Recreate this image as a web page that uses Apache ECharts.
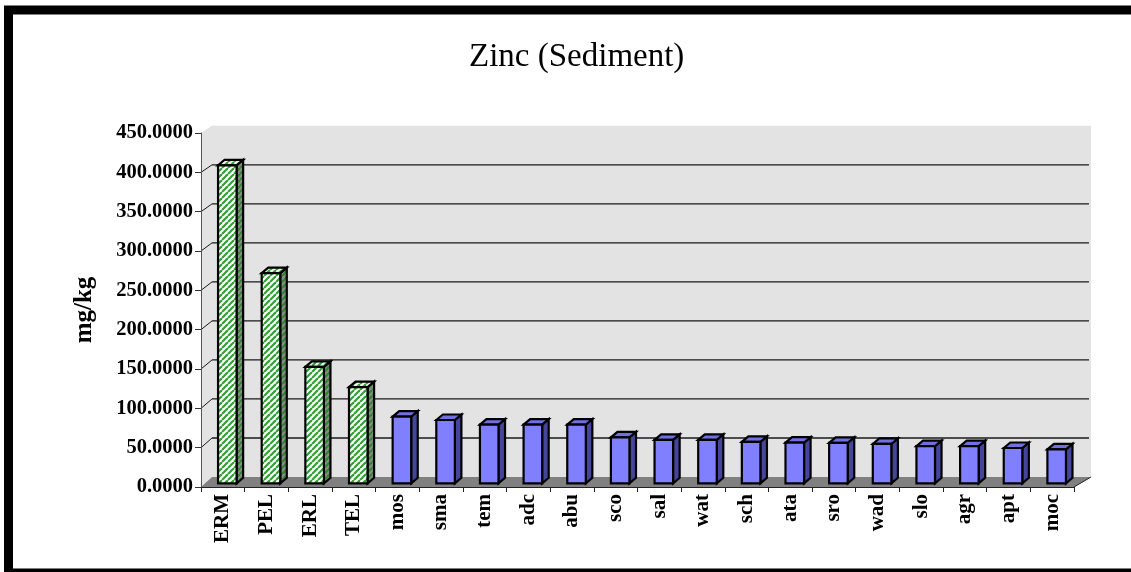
<!DOCTYPE html>
<html><head><meta charset="utf-8">
<script src="https://cdn.jsdelivr.net/npm/echarts@6/dist/echarts.min.js"></script>
<style>html,body{margin:0;padding:0;background:#fff}#c{width:1131px;height:572px}</style>
</head><body><div id="c"></div>
<script>
// ---- data ----
const categories = ['ERM','PEL','ERL','TEL','mos','sma','tem','adc','abu','sco','sal','wat','sch','ata','sro','wad','slo','agr','apt','moc'];
const guidelineNames = ['ERM','PEL','ERL','TEL'];
const guidelineValues = [410, 271, 150, 124];
const siteNames = ['mos','sma','tem','adc','abu','sco','sal','wat','sch','ata','sro','wad','slo','agr','apt','moc'];
const siteValues = [86, 81.6, 75.6, 75.6, 75.6, 59.3, 55.9, 55.9, 53.3, 52.4, 52, 50.7, 48, 48, 45.5, 43.8];
const yMin = 0, yMax = 450, yStep = 50;
const titleText = 'Zinc (Sediment)';
const yAxisTitle = 'mg/kg';

// ---- patterns ----
function makePattern(bg, fg, size, lw){
  const c = document.createElement('canvas'); c.width = c.height = size;
  const g = c.getContext('2d'); g.fillStyle = bg; g.fillRect(0,0,size,size);
  g.strokeStyle = fg; g.lineWidth = lw;
  for (let k=-1;k<=1;k++){ g.beginPath(); g.moveTo(k*size, size); g.lineTo(k*size+size, 0); g.stroke(); }
  return {image: c, repeat: 'repeat'};
}
const hatchFront = makePattern('#ffffff', '#33a033', 6, 2.2);
const hatchSide = makePattern('#8a8a8a', '#2e862e', 6, 2.2);
const hatchTop = makePattern('#f4f4f4', '#33a033', 6, 2.2);

const FONT = '"Liberation Serif", "Times New Roman", serif';

function backPt(cs, x, y){
  const by0 = cs.y + cs.height;
  return [x + 11 + (x - cs.x)*0.0069, by0 - 10 + (y - by0)*0.992];
}

function renderBackground(params, api){
  const cs = params.coordSys;
  const gx = cs.x, gy = cs.y, gw = cs.width, gh = cs.height;
  const ch = [];
  const tl = backPt(cs, gx, gy), tr = backPt(cs, gx+gw, gy);
  const bl = backPt(cs, gx, gy+gh), br = backPt(cs, gx+gw, gy+gh);
  ch.push({type:'polygon', shape:{points:[tl,tr,br,bl]}, style:{fill:'#e3e3e3'}});
  ch.push({type:'polygon', shape:{points:[[gx,gy],tl,bl,[gx,gy+gh]]}, style:{fill:'#e3e3e3'}});
  ch.push({type:'polygon', shape:{points:[[gx,gy+gh],[gx+gw,gy+gh],br,bl]}, style:{fill:'#808080'}});
  ch.push({type:'line', shape:{x1:gx+gw,y1:gy+gh,x2:br[0],y2:br[1]}, style:{stroke:'#222',lineWidth:1}});
  for (let v = yMin + yStep; v < yMax; v += yStep){
    const p = api.coord([0, v]);
    const y = p[1];
    const a = backPt(cs, gx, y), b = backPt(cs, gx+gw, y);
    ch.push({type:'line', shape:{x1:a[0],y1:a[1],x2:b[0]-2,y2:b[1]}, style:{stroke:'#1a1a1a',lineWidth:1.3}});
    ch.push({type:'line', shape:{x1:gx,y1:y,x2:a[0],y2:a[1]}, style:{stroke:'#1a1a1a',lineWidth:1}});
  }
  return {type:'group', children: ch};
}

function makeBarRender(front, side, top){
  return function(params, api){
    const i = api.value(0), v = api.value(1);
    const base = api.coord([i, 0]), tp = api.coord([i, v]);
    const bw = api.size([1, 0])[0];
    const fw = bw*0.425, off = bw*0.103, dx = bw*0.15, dy = 5.5;
    const x0 = base[0] + off - fw/2, x1 = x0 + fw;
    const y0 = base[1] - 3.7;
    const yt = y0 - (base[1] - tp[1])*0.986;
    const st = {stroke:'#000', lineWidth:2.2, lineJoin:'miter'};
    return {type:'group', children:[
      {type:'polygon', shape:{points:[[x1,yt],[x1+dx,yt-dy],[x1+dx,y0-dy],[x1,y0]]}, style:Object.assign({fill:side}, st)},
      {type:'polygon', shape:{points:[[x0,yt],[x0+dx,yt-dy],[x1+dx,yt-dy],[x1,yt]]}, style:Object.assign({fill:top}, st)},
      {type:'rect', shape:{x:x0,y:yt,width:fw,height:y0-yt}, style:Object.assign({fill:front}, st)}
    ]};
  };
}

const chart = echarts.init(document.getElementById('c'), null, {renderer:'canvas'});
chart.setOption({
  animation: false,
  backgroundColor: '#ffffff',
  title: {text: titleText, left: 464, top: 36,
    textStyle: {fontFamily: FONT, fontSize: 33, fontWeight: 'normal', color: '#000'}},
  graphic: [{type:'rect', shape:{x:8.5, y:10, width:1200, height:563}, style:{fill:'none', stroke:'#000', lineWidth:9}, z:100}],
  grid: {left: 201, top: 133, width: 873, height: 354, containLabel: false},
  xAxis: {type:'category', data: categories, boundaryGap: true, z: 10,
    axisLine: {show:true, lineStyle:{color:'#222', width:1}},
    axisTick: {show:true, interval:0, length:5, inside:false, lineStyle:{color:'#222'}},
    axisLabel: {interval:0, rotate:90, margin:7, fontFamily: FONT, fontWeight:'bold', fontSize:21, color:'#000'},
    splitLine: {show:false}},
  yAxis: {type:'value', min:yMin, max:yMax, interval:yStep, z: 10,
    name: yAxisTitle, nameLocation:'middle', nameRotate:90, nameGap:104,
    nameTextStyle: {fontFamily: FONT, fontWeight:'bold', fontSize:25, color:'#000'},
    axisLine: {show:true, lineStyle:{color:'#555', width:1}},
    axisTick: {show:true, length:6, inside:false, lineStyle:{color:'#333'}},
    axisLabel: {margin:8, formatter: v => v.toFixed(4), fontFamily: FONT, fontWeight:'bold', fontSize:20.5, color:'#000'},
    splitLine: {show:false}},
  series: [
    {type:'custom', silent:true, z:1, renderItem: renderBackground, data: [[0, 0]]},
    {type:'custom', silent:true, z:3, renderItem: makeBarRender(hatchFront, hatchSide, hatchTop),
      data: guidelineNames.map((n, k) => [categories.indexOf(n), guidelineValues[k]])},
    {type:'custom', silent:true, z:3, renderItem: makeBarRender('#8080ff', '#45459a', '#7070e0'),
      data: siteNames.map((n, k) => [categories.indexOf(n), siteValues[k]])}
  ]
});
</script></body></html>
